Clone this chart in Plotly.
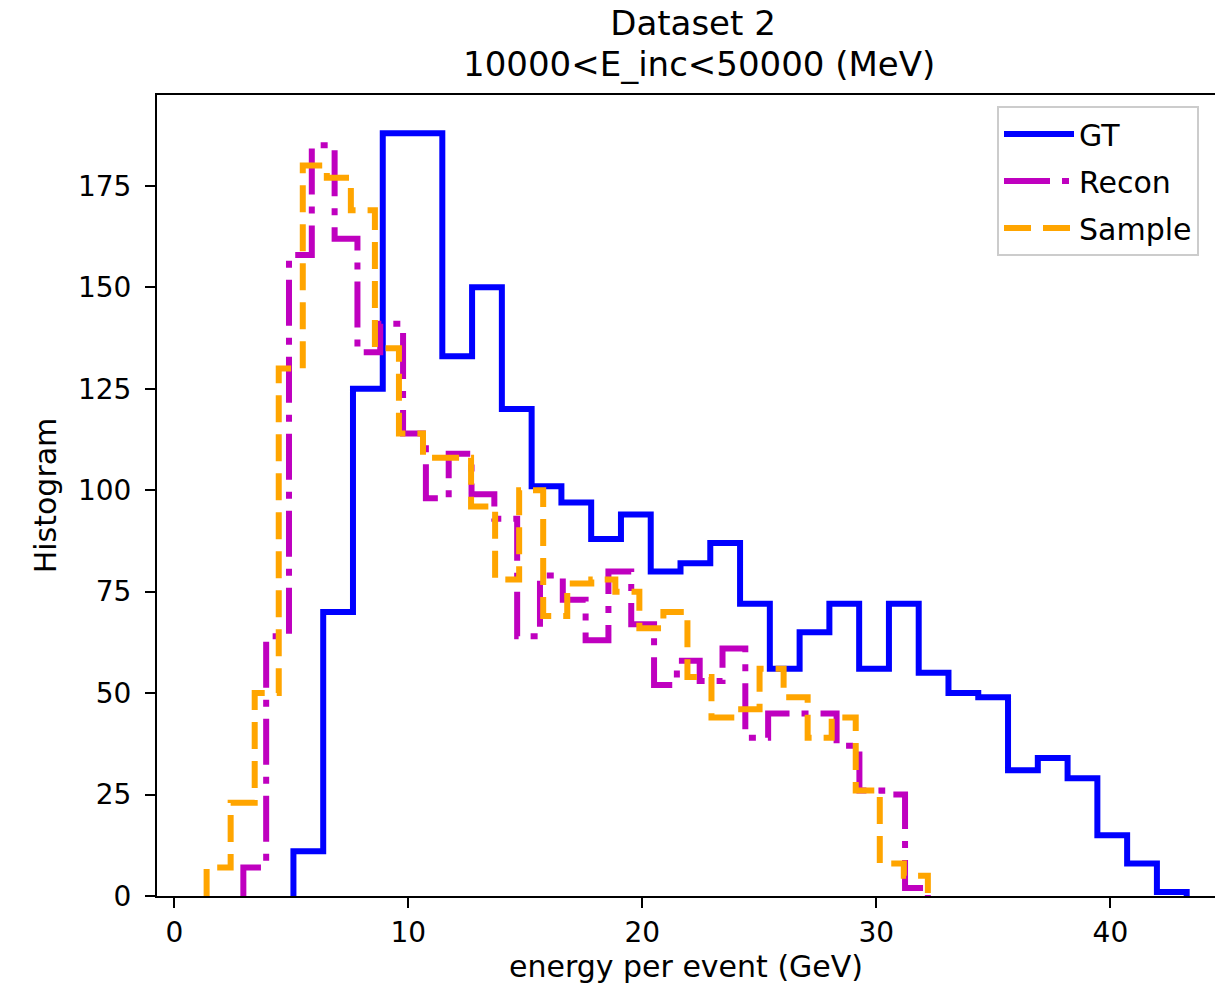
import numpy as np
import plotly.graph_objects as go

# ---- data (30 bins per series) ----
series_names = ["GT", "Recon", "Sample"]

gt_counts = [11, 70, 125, 188, 188, 133, 150, 120, 101, 97, 88, 94, 80, 82, 87,
             72, 56, 65, 72, 56, 72, 55, 50, 49, 31, 34, 29, 15, 8, 1]
gt_range = (5.09, 43.26)

recon_counts = [7, 64, 158, 185, 162, 134, 141, 114, 98, 109, 99, 93, 64, 79, 73,
                63, 80, 67, 52, 58, 53, 61, 39, 45, 45, 45, 37, 26, 25, 2]
recon_range = (2.95, 32.2)

sample_counts = [7, 23, 50, 130, 180, 177, 169, 135, 114, 108, 108, 96, 78, 100, 69,
                 77, 78, 75, 66, 70, 54, 44, 46, 56, 49, 39, 44, 26, 8, 5]
sample_range = (1.38, 32.2)

x_ticks = [0, 10, 20, 30, 40]
y_ticks = [0, 25, 50, 75, 100, 125, 150, 175]

title_line1 = "Dataset 2"
title_line2 = "10000&lt;E_inc&lt;50000 (MeV)"
x_label = "energy per event (GeV)"
y_label = "Histogram"

# ---- figure ----
styles = [
    dict(color="#0000ff", dash="solid"),
    dict(color="#bf00bf", dash="46px,12px,7px,12px"),
    dict(color="#ffa500", dash="27px,12px"),
]
all_counts = [gt_counts, recon_counts, sample_counts]
all_ranges = [gt_range, recon_range, sample_range]

fig = go.Figure()
for name, counts, rng, st in zip(series_names, all_counts, all_ranges, styles):
    edges = np.linspace(rng[0], rng[1], len(counts) + 1)
    xs = np.concatenate([[edges[0]], edges[:-1], [edges[-1]]])
    ys = [0] + list(counts) + [0]
    fig.add_trace(go.Scatter(
        x=xs, y=ys, mode="lines", name=name, legendgroup=name,
        line=dict(shape="hv", color=st["color"], width=6, dash=st["dash"]),
    ))

font_family = "DejaVu Sans"
fig.update_layout(
    width=1215, height=997,
    margin=dict(l=157, r=0, t=95, b=101),
    paper_bgcolor="white", plot_bgcolor="white",
    font=dict(family=font_family, size=28, color="black"),
    title=dict(text=title_line1, xref="container", x=693 / 1215, xanchor="center",
               yref="container", y=1 - 23 / 997, yanchor="middle",
               font=dict(size=34, family=font_family, color="black")),
    annotations=[dict(text=title_line2, xref="paper", yref="paper",
                      x=(699 - 157) / 1058, y=(896 - 64) / 801,
                      xanchor="center", yanchor="middle", showarrow=False,
                      font=dict(size=34, family=font_family, color="black"))],
    legend=dict(x=(997 - 157) / 1058, y=(896 - 106) / 801, xanchor="left", yanchor="top",
                bordercolor="#cccccc", borderwidth=2, bgcolor="white",
                font=dict(size=30, family=font_family, color="black"),
                itemwidth=70, tracegroupgap=5),
    showlegend=True,
)
fig.update_xaxes(
    range=[-0.74, 44.47], tickvals=x_ticks, ticks="outside", ticklen=10, tickwidth=2,
    tickcolor="black", showline=True, linecolor="black", linewidth=2, mirror=True,
    showgrid=False, zeroline=False, tickfont=dict(size=28),
    title=dict(text=x_label, standoff=8, font=dict(size=30)),
)
fig.update_yaxes(
    range=[0, 197.4], tickvals=y_ticks, ticks="outside", ticklen=10, tickwidth=2,
    tickcolor="black", showline=True, linecolor="black", linewidth=2, mirror=False,
    showgrid=False, zeroline=False, tickfont=dict(size=28), ticklabelstandoff=8,
    title=dict(text=y_label, standoff=12, font=dict(size=30)),
)

fig.write_html("out.html")
